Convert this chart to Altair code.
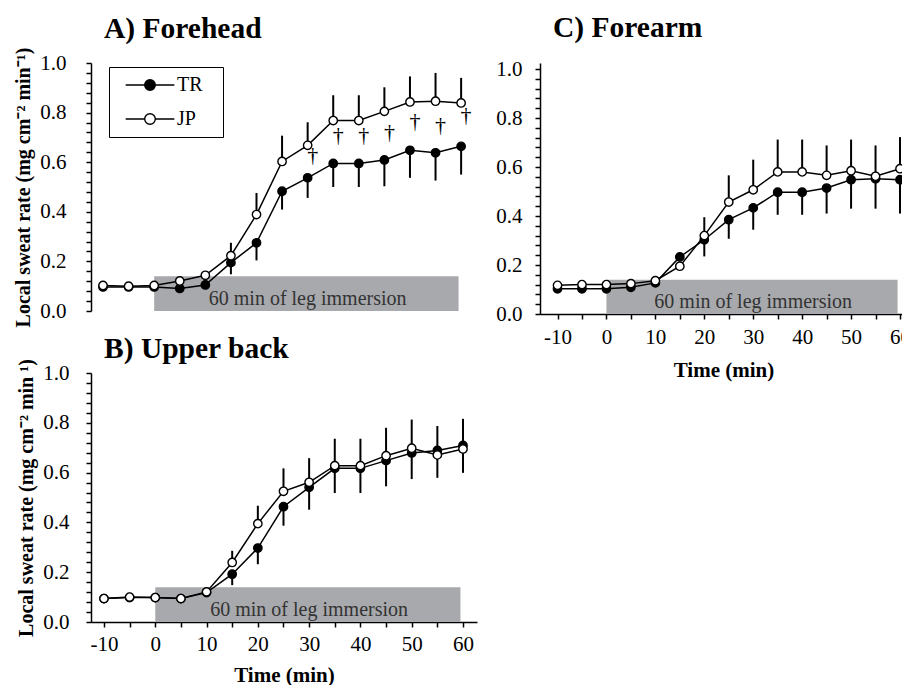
import altair as alt
import pandas as pd

# ---------------- data ----------------
time = [-10, -5, 0, 5, 10, 15, 20, 25, 30, 35, 40, 45, 50, 55, 60]
groups = ["TR", "JP"]

# A) Forehead
forehead_tr = [0.097, 0.097, 0.097, 0.091, 0.105, 0.195, 0.275, 0.483, 0.537, 0.595, 0.595, 0.609, 0.648, 0.638, 0.664]
forehead_jp = [0.103, 0.100, 0.103, 0.121, 0.144, 0.223, 0.389, 0.603, 0.668, 0.768, 0.768, 0.805, 0.843, 0.846, 0.839]
forehead_tr_lo = [0.092, 0.092, 0.092, 0.086, 0.098, 0.148, 0.204, 0.409, 0.456, 0.500, 0.500, 0.503, 0.537, 0.526, 0.550]
forehead_jp_hi = [0.108, 0.105, 0.108, 0.128, 0.152, 0.275, 0.476, 0.707, 0.761, 0.870, 0.870, 0.902, 0.946, 0.960, 0.940]
forehead_dagger_time = [30, 35, 40, 45, 50, 55, 60]
forehead_dagger_y = [0.628, 0.711, 0.711, 0.722, 0.765, 0.752, 0.792]

# B) Upper back
back_tr = [0.094, 0.098, 0.098, 0.094, 0.118, 0.192, 0.297, 0.463, 0.541, 0.617, 0.617, 0.648, 0.679, 0.689, 0.709]
back_jp = [0.094, 0.100, 0.098, 0.094, 0.121, 0.239, 0.395, 0.525, 0.561, 0.628, 0.628, 0.668, 0.698, 0.671, 0.695]
back_tr_lo = [0.090, 0.094, 0.094, 0.090, 0.112, 0.148, 0.232, 0.387, 0.451, 0.518, 0.518, 0.545, 0.574, 0.579, 0.599]
back_jp_hi = [0.098, 0.104, 0.102, 0.098, 0.127, 0.286, 0.467, 0.617, 0.658, 0.736, 0.736, 0.780, 0.813, 0.787, 0.816]

# C) Forearm
arm_tr = [0.103, 0.103, 0.103, 0.109, 0.127, 0.233, 0.303, 0.385, 0.433, 0.497, 0.497, 0.514, 0.548, 0.552, 0.548]
arm_jp = [0.117, 0.120, 0.120, 0.124, 0.136, 0.195, 0.320, 0.457, 0.507, 0.580, 0.580, 0.566, 0.585, 0.562, 0.593]
arm_tr_lo = [0.098, 0.098, 0.098, 0.104, 0.120, 0.225, 0.235, 0.307, 0.344, 0.405, 0.405, 0.410, 0.430, 0.430, 0.410]
arm_jp_hi = [0.122, 0.125, 0.125, 0.129, 0.142, 0.200, 0.395, 0.566, 0.630, 0.712, 0.712, 0.688, 0.712, 0.688, 0.722]

# axis ticks / labels
x_tick_values = [-10, -5, 0, 5, 10, 15, 20, 25, 30, 35, 40, 45, 50, 55, 60]
x_label_values = [-10, 0, 10, 20, 30, 40, 50, 60]
y_tick_values = [0.0, 0.04, 0.08, 0.12, 0.16, 0.2, 0.24, 0.28, 0.32, 0.36, 0.4, 0.44, 0.48,
                 0.52, 0.56, 0.6, 0.64, 0.68, 0.72, 0.76, 0.8, 0.84, 0.88, 0.92, 0.96, 1.0]
y_label_values = [0.0, 0.2, 0.4, 0.6, 0.8, 1.0]

# immersion period annotation
immersion_start = [0]
immersion_end = [59.5]
immersion_top = [0.14]
immersion_text = ["60 min of leg immersion"]
immersion_text_time = [30]
immersion_text_y = [0.05]

FONT = "Liberation Serif"
GRAY = "#a8a9ad"

x_lab_expr = "indexof(" + str(x_label_values) + ", datum.value) >= 0 ? toString(datum.value) : ''"
y_lab_expr = "indexof(" + str(y_label_values) + ", datum.value) >= 0 ? datum.label : ''"

legend_symbol = "M-4.6,0H-1M1,0H4.6M-1,0A1,1,0,1,1,1,0A1,1,0,1,1,-1,0Z"


def panel(title, tr, jp, tr_lo, jp_hi, ytitle, show_x, legend, width, height,
          xdomain, ydomain, ylabpad, title_dx, title_offset, xlabpad=7, xtitlepad=12,
          dag_t=None, dag_y=None):
    rows = []
    for i, t in enumerate(time):
        rows.append({"time": t, "group": "TR", "value": tr[i], "value_end": tr_lo[i]})
        rows.append({"time": t, "group": "JP", "value": jp[i], "value_end": jp_hi[i]})
    df = pd.DataFrame(rows)

    if show_x:
        xaxis = alt.Axis(values=x_tick_values, labelExpr=x_lab_expr,
                         title="Time (min)", tickSize=5, labelPadding=xlabpad,
                         titlePadding=xtitlepad, labelAngle=0)
    else:
        xaxis = None
    x = alt.X("time:Q", scale=alt.Scale(domain=xdomain, nice=False, zero=False), axis=xaxis)
    yaxis = alt.Axis(values=y_tick_values, labelExpr=y_lab_expr, format=".1f",
                     title=ytitle, titleFontSize=20, tickSize=5, labelPadding=ylabpad,
                     titlePadding=6)
    y = alt.Y("value:Q", scale=alt.Scale(domain=ydomain, nice=False, zero=True), axis=yaxis)

    bar_df = pd.DataFrame({"time": immersion_start, "time_end": immersion_end,
                           "value": [0], "value_end": immersion_top})
    txt_df = pd.DataFrame({"time": immersion_text_time, "value": immersion_text_y,
                           "label": immersion_text})

    bar = alt.Chart(bar_df).mark_rect(color=GRAY).encode(x=x, x2="time_end", y=y, y2="value_end")
    txt = alt.Chart(txt_df).mark_text(font=FONT, fontSize=20, color="#333333",
                                      baseline="middle", align="center").encode(x=x, y=y, text="label:N")
    base = alt.Chart(df)
    rules = base.mark_rule(color="black", strokeWidth=2).encode(x=x, y=y, y2="value_end")
    line = base.mark_line(color="black", strokeWidth=1.5).encode(x=x, y=y, detail="group:N", order="time:Q")
    layers = [bar, txt, rules, line]
    if legend:
        pts = base.mark_point(shape="circle", filled=True, size=70, stroke="black",
                              strokeWidth=1.4, opacity=1).encode(
            x=x, y=y,
            fill=alt.Fill("group:N", scale=alt.Scale(domain=groups, range=["black", "white"]),
                          legend=alt.Legend(title="\u2800", titleOrient="right", titleFontSize=6,
                                            titlePadding=8, titleColor="white",
                                            orient="none", legendX=18, legendY=4,
                                            symbolType=legend_symbol, symbolSize=112,
                                            symbolStrokeColor="black", symbolStrokeWidth=1.4,
                                            labelFont=FONT, labelFontSize=20, labelColor="black",
                                            strokeColor="black", fillColor="white", padding=8,
                                            rowPadding=14, symbolOffset=23, labelOffset=17)))
        layers.append(pts)
    else:
        for g, col in zip(groups, ["black", "white"]):
            layers.append(base.transform_filter(alt.datum.group == g).mark_point(
                shape="circle", filled=True, size=70, fill=col, stroke="black",
                strokeWidth=1.4, opacity=1).encode(x=x, y=y))
    if dag_t is not None:
        dag_df = pd.DataFrame({"time": dag_t, "value": dag_y, "mark": ["\u2020"] * len(dag_t)})
        layers.append(alt.Chart(dag_df).mark_text(font=FONT, fontSize=22, dx=5, color="black",
                                                  baseline="middle").encode(x=x, y=y, text="mark:N"))
    return alt.layer(*layers).properties(
        width=width, height=height,
        title=alt.TitleParams(title, anchor="start", frame="group", dx=title_dx, offset=title_offset,
                              font=FONT, fontSize=29.5, fontWeight="bold", color="black"))


A = panel("A) Forehead", forehead_tr, forehead_jp, forehead_tr_lo, forehead_jp_hi,
          "Local sweat rate (mg cm\u207b\u00b2 min\u207b\u00b9)", False, True, 387, 248,
          [-12.35, 63.3], [0, 1], 20, 13, 2.5,
          dag_t=forehead_dagger_time, dag_y=forehead_dagger_y)
B = panel("B) Upper back", back_tr, back_jp, back_tr_lo, back_jp_hi,
          "Local sweat rate (mg cm\u207b\u00b2 min \u00b9)", True, False, 386, 249,
          [-12.53, 62.73], [0, 1], 17, 13, -6, xlabpad=6, xtitlepad=10)
C = panel("C) Forearm", arm_tr, arm_jp, arm_tr_lo, arm_jp_hi,
          None, True, False, 367, 251, [-13.58, 61.43], [0, 1.0245], 13, 13, 14.5,
          xlabpad=7, xtitlepad=12)

chart = alt.hconcat(alt.vconcat(A, B, spacing=7), C, spacing=17).properties(
    padding={"left": 5, "top": 5, "right": -9, "bottom": 0}
).configure_view(stroke=None).configure_axis(
    grid=False, domainColor="black", tickColor="black", domainWidth=1.5, tickWidth=1.5,
    labelFont=FONT, labelFontSize=21, labelColor="black",
    titleFont=FONT, titleFontSize=21, titleFontWeight="bold", titleColor="black"
)

chart.save("out.html", embed_options={"renderer": "svg", "actions": False})
